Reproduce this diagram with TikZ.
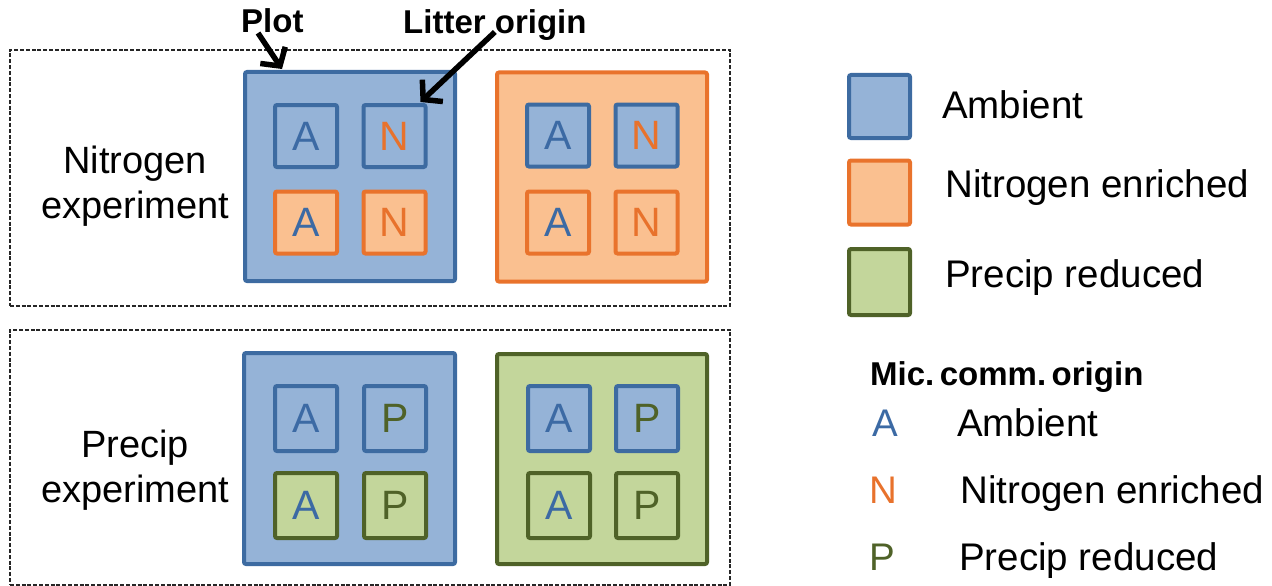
\documentclass[tikz,border=0pt]{standalone}
\usepackage{fontspec}
\setmainfont{Liberation Sans}
\usetikzlibrary{arrows.meta}
\definecolor{bfill}{HTML}{95B3D7}
\definecolor{bline}{HTML}{3D6BA1}
\definecolor{ofill}{HTML}{FAC090}
\definecolor{oline}{HTML}{E9732C}
\definecolor{gfill}{HTML}{C3D69B}
\definecolor{gline}{HTML}{4F6228}
\definecolor{tblue}{HTML}{3C6AA4}
\definecolor{torange}{HTML}{E8722C}
\definecolor{tgreen}{HTML}{4F6228}
\begin{document}
\begin{tikzpicture}[x=1pt,y=-1pt,
  grp/.style={draw=black!85, line width=1.7pt, dash pattern=on 4pt off 1.8pt, inner sep=0},
  plotbox/.style={draw, line width=4pt, rounded corners=2pt, minimum width=210pt, minimum height=209pt, inner sep=0},
  sub/.style={draw, line width=4pt, rounded corners=2pt, minimum width=62pt, minimum height=62pt, inner sep=0, font=\fontsize{41}{41}\selectfont},
  subb/.style={sub, minimum height=65pt},
  amb/.style={fill=bfill, draw=bline},
  nit/.style={fill=ofill, draw=oline},
  pre/.style={fill=gfill, draw=gline},
  la/.style={text=tblue}, ln/.style={text=torange}, lp/.style={text=tgreen},
  txt/.style={inner sep=0, anchor=base west, font=\fontsize{38.5}{45}\selectfont},
  bold/.style={inner sep=0, anchor=base west, font=\fontsize{33}{40}\selectfont\bfseries},
  exptxt/.style={inner sep=0, align=center, font=\fontsize{38}{45}\selectfont},
  arr/.style={line width=5.5pt, -{Straight Barb[length=13pt,width=30pt]}}
]
\useasboundingbox (0,0) rectangle (1272,586);

% group boxes
\node[grp, minimum width=720pt, minimum height=256pt] (gN) at (370,178) {};
\node[grp, minimum width=720pt, minimum height=255pt] (gP) at (370,457.5) {};

% experiment labels
\node[exptxt] (eN) at (135,186) {Nitrogen\\experiment};
\node[exptxt] (eP) at (135,470) {Precip\\experiment};

% Nitrogen experiment plots
\node[plotbox, amb] (pTL) at (350,176.5) {};
\node[sub, amb, la] (aTL1) at (306,136) {A};
\node[sub, amb, ln] (nTL1) at (394.5,136) {N};
\node[sub, nit, la] (aTL2) at (306,222.5) {A};
\node[sub, nit, ln] (nTL2) at (394.5,222.5) {N};

\node[plotbox, nit] (pTR) at (602,177) {};
\node[sub, amb, la] (aTR1) at (558,135.5) {A};
\node[sub, amb, ln] (nTR1) at (646.5,135.5) {N};
\node[sub, nit, la] (aTR2) at (558,222.5) {A};
\node[sub, nit, ln] (nTR2) at (646.5,222.5) {N};

% Precip experiment plots
\node[plotbox, amb, minimum width=211pt, minimum height=211pt] (pBL) at (349.5,458.5) {};
\node[subb, amb, la] (aBL1) at (306,418.5) {A};
\node[subb, amb, lp] (pBL1) at (395,418.5) {P};
\node[subb, pre, la] (aBL2) at (306,505.5) {A};
\node[subb, pre, lp] (pBL2) at (395,505.5) {P};

\node[plotbox, pre, minimum height=210pt] (pBR) at (602,459) {};
\node[subb, amb, la] (aBR1) at (559,418.5) {A};
\node[subb, amb, lp] (pBR1) at (647,418.5) {P};
\node[subb, pre, la] (aBR2) at (559,505.5) {A};
\node[subb, pre, lp] (pBR2) at (647,505.5) {P};

% callouts
\node[bold] (plotlbl) at (241,33) {Plot};
\node[bold] (litterlbl) at (403,34) {Litter origin};
\draw[arr] ([xshift=17pt]plotlbl.base west) -- ([xshift=39pt,yshift=1pt]pTL.north west);
\draw[arr] ([yshift=2pt]litterlbl.base) -- ([xshift=-7pt,yshift=1pt]nTL1.north east);

% legend 1
\node[sub, amb, minimum width=61pt, minimum height=63pt] (lgA) at (879.5,106.5) {};
\node[sub, nit, minimum width=61pt, minimum height=64pt] (lgN) at (879.5,192.5) {};
\node[sub, pre, minimum width=61pt, minimum height=66pt] (lgP) at (879.5,282) {};
\node[txt] (lgAt) at (942,118) {Ambient};
\node[txt] (lgNt) at (945,197) {Nitrogen enriched};
\node[txt] (lgPt) at (945,287) {Precip reduced};

% legend 2
\node[bold] (mic) at (870,385) {Mic.\,comm.\,origin};
\node[txt, la] (mA) at (872,436) {A};
\node[txt, ln] (mN) at (869,503) {N};
\node[txt, lp] (mP) at (869,570) {P};
\node[txt] (mAt) at (957,436) {Ambient};
\node[txt] (mNt) at (960,503) {Nitrogen enriched};
\node[txt] (mPt) at (959,570) {Precip reduced};
\end{tikzpicture}
\end{document}
